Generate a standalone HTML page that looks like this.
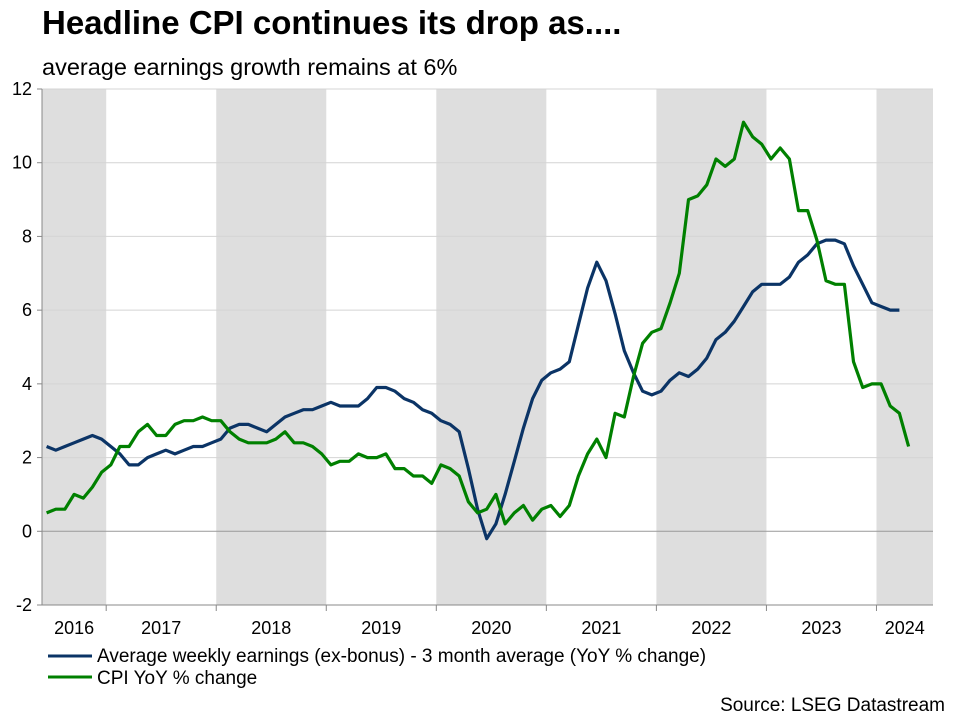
<!DOCTYPE html>
<html><head><meta charset="utf-8"><style>
body{margin:0;background:#fff;font-family:"Liberation Sans",sans-serif;}
svg text{font-family:"Liberation Sans",sans-serif;}
</style></head><body>
<svg id="chart" width="956" height="715" xmlns="http://www.w3.org/2000/svg">
<text x="42" y="34" font-size="33" font-weight="bold" fill="#000">Headline CPI continues its drop as....</text>
<text x="42" y="75" font-size="23.5" fill="#000">average earnings growth remains at 6%</text>
<g id="bands"></g><g id="grid"></g><g id="axes"></g><g id="series"></g>
<g>
<line x1="48" y1="656" x2="92" y2="656" stroke="#0b3466" stroke-width="3"/>
<text x="97" y="662" font-size="19">Average weekly earnings (ex-bonus) - 3 month average (YoY % change)</text>
<line x1="48" y1="677" x2="92" y2="677" stroke="#008000" stroke-width="3"/>
<text x="97" y="684" font-size="19">CPI YoY % change</text>
</g>
<text x="945" y="711" font-size="19" text-anchor="end">Source: LSEG Datastream</text>
</svg>
<script>
const years=["2016","2017","2018","2019","2020","2021","2022","2023","2024"];
const yTicks=[-2,0,2,4,6,8,10,12];
const cpi=[0.5,0.6,0.6,1.0,0.9,1.2,1.6,
1.8,2.3,2.3,2.7,2.9,2.6,2.6,2.9,3.0,3.0,3.1,3.0,
3.0,2.7,2.5,2.4,2.4,2.4,2.5,2.7,2.4,2.4,2.3,2.1,
1.8,1.9,1.9,2.1,2.0,2.0,2.1,1.7,1.7,1.5,1.5,1.3,
1.8,1.7,1.5,0.8,0.5,0.6,1.0,0.2,0.5,0.7,0.3,0.6,
0.7,0.4,0.7,1.5,2.1,2.5,2.0,3.2,3.1,4.2,5.1,5.4,
5.5,6.2,7.0,9.0,9.1,9.4,10.1,9.9,10.1,11.1,10.7,10.5,
10.1,10.4,10.1,8.7,8.7,7.9,6.8,6.7,6.7,4.6,3.9,4.0,
4.0,3.4,3.2,2.3];
const earnings=[2.3,2.2,2.3,2.4,2.5,2.6,2.5,
2.3,2.1,1.8,1.8,2.0,2.1,2.2,2.1,2.2,2.3,2.3,2.4,
2.5,2.8,2.9,2.9,2.8,2.7,2.9,3.1,3.2,3.3,3.3,3.4,
3.5,3.4,3.4,3.4,3.6,3.9,3.9,3.8,3.6,3.5,3.3,3.2,
3.0,2.9,2.7,1.7,0.6,-0.2,0.2,1.0,1.9,2.8,3.6,4.1,
4.3,4.4,4.6,5.6,6.6,7.3,6.8,5.9,4.9,4.3,3.8,3.7,
3.8,4.1,4.3,4.2,4.4,4.7,5.2,5.4,5.7,6.1,6.5,6.7,
6.7,6.7,6.9,7.3,7.5,7.8,7.9,7.9,7.8,7.2,6.7,6.2,
6.1,6.0,6.0];
const NS="http://www.w3.org/2000/svg";
const L=42,R=933,T=89,B=605,startMonth=5; // June 2016
const monthW=9.17;
function xM(i){return L+(i+0.5)*monthW;}
function xYear(k){return L+((k*12)-startMonth)*monthW;}
function y(v){return B-(v+2)/14*(B-T);}
function mk(tag,attrs,parent){const e=document.createElementNS(NS,tag);for(const k in attrs)e.setAttribute(k,attrs[k]);document.getElementById(parent).appendChild(e);return e;}
for(let k=0;k<years.length;k++){
  let x0=Math.max(L,xYear(k)),x1=Math.min(R,xYear(k+1));
  if(k%2===0){const r=mk('rect',{x:x0,y:T,width:x1-x0,height:B-T,fill:'#dedede'},'bands');
  
  }
  const t=mk('text',{x:(x0+x1)/2,y:634,'font-size':18,'text-anchor':'middle'},'axes');
  t.textContent=years[k];
  
  
  if(k>0){const tk=mk('line',{x1:xYear(k),x2:xYear(k),y1:B,y2:B+6,stroke:'#888'},'axes');
  
  }
}
yTicks.forEach(v=>{
  if(v!==-2&&v!==0){const g=mk('line',{x1:L,x2:R,y1:y(v),y2:y(v),stroke:'#d4d4d4','stroke-width':1},'grid');
  
  }
  const t=mk('text',{x:L-10,y:y(v)+6,'font-size':18,'text-anchor':'end'},'axes');
  t.textContent=v;
  
  
  const tk=mk('line',{x1:L-5,x2:L,y1:y(v),y2:y(v),stroke:'#888'},'axes');
  
  
});
const z=mk('line',{x1:L,x2:R,y1:y(0),y2:y(0),stroke:'#999'},'axes');


const ya=mk('line',{x1:L,x2:L,y1:T,y2:B,stroke:'#888'},'axes');


const xa=mk('line',{x1:L,x2:R,y1:B,y2:B,stroke:'#888'},'axes');


function line(arr,color,name){
  const p=mk('polyline',{points:arr.map((v,i)=>xM(i).toFixed(1)+','+y(v).toFixed(1)).join(' '),fill:'none',stroke:color,'stroke-width':3.2,'stroke-linejoin':'round'},'series');
  
  
}
line(earnings,'#0b3466','earnings-line');
line(cpi,'#008000','cpi-line');
</script>
</body></html>
